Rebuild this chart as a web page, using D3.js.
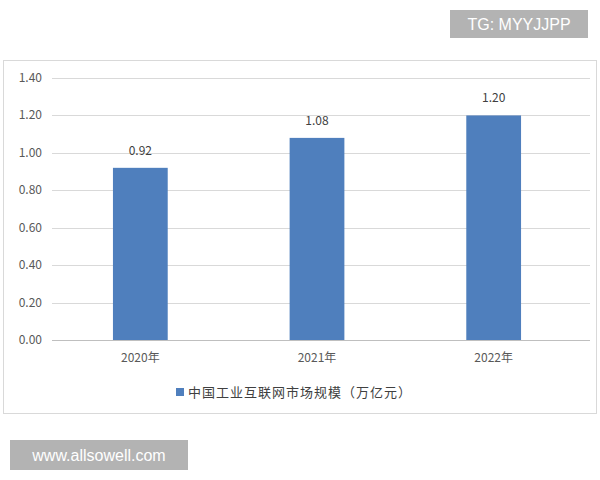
<!DOCTYPE html>
<html><head><meta charset="utf-8">
<script src="https://cdn.jsdelivr.net/npm/d3@7"></script>
<style>body{margin:0;background:#fff}</style>
</head><body>
<svg id="c" width="600" height="480"></svg>
<script>
const categories = ["2020年","2021年","2022年"];
const values = [0.92,1.08,1.20];
const yTicks = [0,0.2,0.4,0.6,0.8,1.0,1.2,1.4];
const seriesName = "中国工业互联网市场规模（万亿元）";

const svg = d3.select("#c");
const font = "'Noto Sans CJK SC', 'Liberation Sans', sans-serif";
svg.append("rect").attr("x",3.5).attr("y",60.5).attr("width",593).attr("height",353)
  .attr("fill","#fff").attr("stroke","#d9d9d9");
const x = d3.scaleBand().domain(categories).range([52,582]).paddingInner(0.69).paddingOuter(0.345);
const y = d3.scaleLinear().domain([0,1.4]).range([340,78]);
const g = svg.append("g");
g.selectAll(".grid").data(yTicks).join("line")
  .attr("x1",52).attr("x2",590).attr("y1",d=>Math.round(y(d))+0.5).attr("y2",d=>Math.round(y(d))+0.5)
  .attr("stroke",d=>d===0?"#bfbfbf":"#d9d9d9");
g.selectAll(".yl").data(yTicks).join("text")
  .attr("x",42).attr("y",d=>y(d)+4).attr("text-anchor","end")
  .attr("font-family",font).attr("font-size",12).attr("fill","#595959").text(d=>d.toFixed(2));
g.selectAll(".bar").data(values).join("rect")
  .attr("x",(d,i)=>x(categories[i])).attr("width",x.bandwidth())
  .attr("y",d=>y(d)).attr("height",d=>y(0)-y(d)).attr("fill","#4f7fbd");
g.selectAll(".vl").data(values).join("text")
  .attr("x",(d,i)=>x(categories[i])+x.bandwidth()/2).attr("y",d=>y(d)-13)
  .attr("text-anchor","middle").attr("font-family",font).attr("font-size",12).attr("fill","#404040")
  .text(d=>d.toFixed(2));
g.selectAll(".xl").data(categories).join("text")
  .attr("x",d=>x(d)+x.bandwidth()/2).attr("y",362).attr("text-anchor","middle")
  .attr("font-family",font).attr("font-size",12).attr("fill","#595959").text(d=>d);
svg.append("rect").attr("x",176).attr("y",388).attr("width",8).attr("height",8).attr("fill","#4f7fbd");
svg.append("text").attr("x",188).attr("y",397).attr("font-family",font).attr("font-size",13)
  .attr("fill","#404040").attr("letter-spacing",1).text(seriesName);
svg.append("rect").attr("x",450).attr("y",10).attr("width",138).attr("height",28).attr("fill","#b3b3b3");
svg.append("text").attr("x",519).attr("y",30).attr("text-anchor","middle").attr("font-family","'Liberation Sans', sans-serif")
  .attr("font-size",16).attr("fill","#fff").text("TG: MYYJJPP");
svg.append("rect").attr("x",10).attr("y",440).attr("width",178).attr("height",30).attr("fill","#b3b3b3");
svg.append("text").attr("x",99).attr("y",461).attr("text-anchor","middle").attr("font-family","'Liberation Sans', sans-serif")
  .attr("font-size",16).attr("fill","#fff").text("www.allsowell.com");
</script>
</body></html>
